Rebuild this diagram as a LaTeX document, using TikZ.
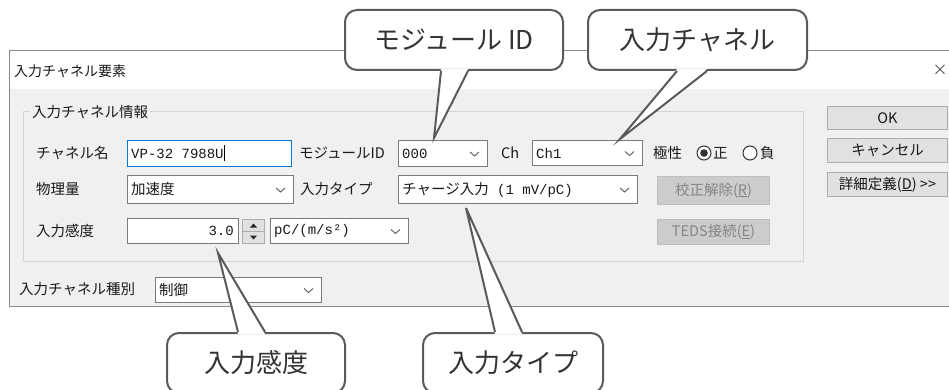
\documentclass[tikz,border=0pt]{standalone}
\usepackage{fontspec}
\setmainfont{Noto Sans CJK JP}
\newfontfamily\monofont{Liberation Mono}
\usetikzlibrary{calc,positioning}
\definecolor{dlgface}{HTML}{F0F0F0}
\definecolor{frameline}{HTML}{8A8A8A}
\definecolor{groupline}{HTML}{D5D5D5}
\definecolor{boxline}{HTML}{7A7A7A}
\definecolor{focusline}{HTML}{0078D7}
\definecolor{btnface}{HTML}{E1E1E1}
\definecolor{btnline}{HTML}{ADADAD}
\definecolor{offface}{HTML}{CCCCCC}
\definecolor{offline}{HTML}{BFBFBF}
\definecolor{offtext}{HTML}{858585}
\definecolor{calloutline}{HTML}{5A5A5A}
\def\chevron#1{\draw[chevline] ($(#1.east)+(-18,-1.5)$) -- ($(#1.east)+(-13.5,2.5)$) -- ($(#1.east)+(-9,-1.5)$);}
\def\pointer#1#2#3#4#5{\fill[white] ($(#1)+(#2,#4)$) -- (#5) -- ($(#1)+(#3,#4)$) -- cycle;
	\draw[pointerline] ($(#1)+(#2,0)$) -- (#5) -- ($(#1)+(#3,0)$);}

\begin{document}
\begin{tikzpicture}[x=1pt,y=-1pt,
	uilabel/.style={inner sep=0pt,anchor=west,text=black!90,font=\fontsize{14.5}{17}\selectfont},
	monolabel/.style={uilabel,font=\monofont\fontsize{14}{16}\selectfont},
	fieldbox/.style={draw=boxline,fill=white,line width=1pt,inner sep=0pt,anchor=north west},
	pushbutton/.style={draw=btnline,fill=btnface,line width=1pt,inner sep=0pt,anchor=north west,text=black!90,font=\fontsize{14.5}{17}\selectfont},
	offbutton/.style={pushbutton,draw=offline,fill=offface,text=offtext},
	callout/.style={draw=calloutline,fill=white,line width=2pt,rounded corners=12pt,inner sep=0pt,text=black!80,font=\fontsize{26}{30}\selectfont},
	pointerline/.style={draw=calloutline,line width=2pt,line join=miter},
	chevline/.style={draw=black!60,line width=1pt}]
			%%%%% START %%%%%
			
			\useasboundingbox (0,0) rectangle (949,390);
			\clip (0,0) rectangle (949,390);
			\fill[white] (0,0) rectangle (949,390);
			
			\draw[frameline, fill=white, line width=1pt] (9, 51) rectangle (960, 306);
			\fill[dlgface] (9.5, 89) rectangle (955, 305.5);
			\node[uilabel, font=\fontsize{14}{16}\selectfont] (title) at (14, 71) {入力チャネル要素};
			\node[text=black!70, font=\fontsize{15}{16}\selectfont, inner sep=0pt] (closex) at (940, 70) {×};
			
			\draw[groupline, line width=1pt] (23, 112) rectangle (803, 261);
			\node[uilabel, fill=dlgface, inner xsep=2pt] (grouplabel) at (30, 112) {入力チャネル情報};
			
			\node[uilabel] (lblname) at (36, 153) {チャネル名};
			\node[fieldbox, draw=focusline, minimum width=164pt, minimum height=26pt] (namebox) at (127, 140) {};
			\node[monolabel] (nametext) at ($(namebox.west)+(4,0)$) {VP-32 7988U};
			\draw[black, line width=1pt] ($(nametext.east)+(1,-8)$) -- ($(nametext.east)+(1,8)$);
			
			\node[uilabel] (lblmod) at (299, 153) {モジュールID};
			\node[fieldbox, minimum width=89pt, minimum height=26pt] (modbox) at (398, 140) {};
			\node[monolabel] (modtext) at ($(modbox.west)+(4,0)$) {000};
			\chevron{modbox}
			
			\node[uilabel] (lblch) at (501, 153) {Ch};
			\node[fieldbox, minimum width=110pt, minimum height=25pt] (chbox) at (532, 140) {};
			\node[monolabel] (chtext) at ($(chbox.west)+(4,0)$) {Ch1};
			\chevron{chbox}
			
			\node[uilabel] (lblpol) at (653, 153) {極性};
			\draw[black!80, line width=1pt, fill=white] (704, 153) circle (7);
			\fill[black!80] (704, 153) circle (3.8);
			\node[uilabel] (lblpos) at (713, 153) {正};
			\draw[black!80, line width=1pt, fill=white] (750, 153) circle (7);
			\node[uilabel] (lblneg) at (760, 153) {負};
			
			\node[uilabel] (lblqty) at (36, 189) {物理量};
			\node[fieldbox, minimum width=166pt, minimum height=28pt] (qtybox) at (127, 175) {};
			\node[uilabel] (qtytext) at ($(qtybox.west)+(4,0)$) {加速度};
			\chevron{qtybox}
			
			\node[uilabel] (lbltype) at (300, 189) {入力タイプ};
			\node[fieldbox, minimum width=239pt, minimum height=28pt] (typebox) at (398, 175) {};
			\node[uilabel] (typetext) at ($(typebox.west)+(4,0)$) {チャージ入力{\monofont\fontsize{14}{16}\selectfont\ (1 mV/pC)}};
			\chevron{typebox}
			
			\node[uilabel] (lblsens) at (36, 231) {入力感度};
			\node[fieldbox, minimum width=111pt, minimum height=25pt] (sensbox) at (127, 218) {};
			\node[monolabel, anchor=east] (senstext) at ($(sensbox.east)+(-5,0)$) {3.0};
			\node[pushbutton, minimum width=22pt, minimum height=12pt] (spinup) at (242, 219) {};
			\node[pushbutton, minimum width=22pt, minimum height=12pt] (spindown) at (242, 231) {};
			\fill[black!85] ($(spinup.center)+(-3.5,2)$) -- ($(spinup.center)+(0,-2)$) -- ($(spinup.center)+(3.5,2)$) -- cycle;
			\fill[black!85] ($(spindown.center)+(-3.5,-2)$) -- ($(spindown.center)+(0,2)$) -- ($(spindown.center)+(3.5,-2)$) -- cycle;
			\node[fieldbox, minimum width=138pt, minimum height=25pt] (unitbox) at (270, 218) {};
			\node[monolabel] (unittext) at ($(unitbox.west)+(4,0)$) {pC/(m/s²)};
			\chevron{unitbox}
			
			\node[offbutton, minimum width=112pt, minimum height=28pt] (calbtn) at (657, 176) {校正解除(\underline{R})};
			\node[offbutton, minimum width=112pt, minimum height=25pt] (tedsbtn) at (657, 219) {TEDS接続(\underline{E})};
			
			\node[pushbutton, minimum width=120pt, minimum height=23pt] (okbtn) at (827, 106) {OK};
			\node[pushbutton, minimum width=120pt, minimum height=24pt] (cancelbtn) at (827, 138) {キャンセル};
			\node[pushbutton, minimum width=120pt, minimum height=24pt] (morebtn) at (827, 172) {詳細定義(\underline{D}) {>}{>}};
			
			\node[uilabel] (lblkind) at (19, 289) {入力チャネル種別};
			\node[fieldbox, minimum width=166pt, minimum height=25pt] (kindbox) at (155, 277) {};
			\node[uilabel] (kindtext) at ($(kindbox.west)+(4,0)$) {制御};
			\chevron{kindbox}
			
			\coordinate (modtip) at (434, 138);
			\coordinate (chtip) at (620, 139);
			\coordinate (senstip) at (218, 253);
			\coordinate (typetip) at (466, 208);
			
			\node[callout, minimum width=218pt, minimum height=60pt] (modcall) at (454, 40) {モジュール ID};
			\pointer{modcall.south}{-13}{14}{-2}{modtip}
			
			\node[callout, minimum width=219pt, minimum height=60pt] (chcall) at (697.5, 40) {入力チャネル};
			\pointer{chcall.south}{-20.5}{9.5}{-2}{chtip}
			
			\node[callout, minimum width=178pt, minimum height=60pt] (senscall) at (256, 363) {入力感度};
			\pointer{senscall.north}{-18}{9}{2}{senstip}
			
			\node[callout, minimum width=180pt, minimum height=60pt] (typecall) at (513, 363) {入力タイプ};
			\pointer{typecall.north}{-18}{9}{2}{typetip}
			
			%%%%% END %%%%%
\end{tikzpicture}
\end{document}
